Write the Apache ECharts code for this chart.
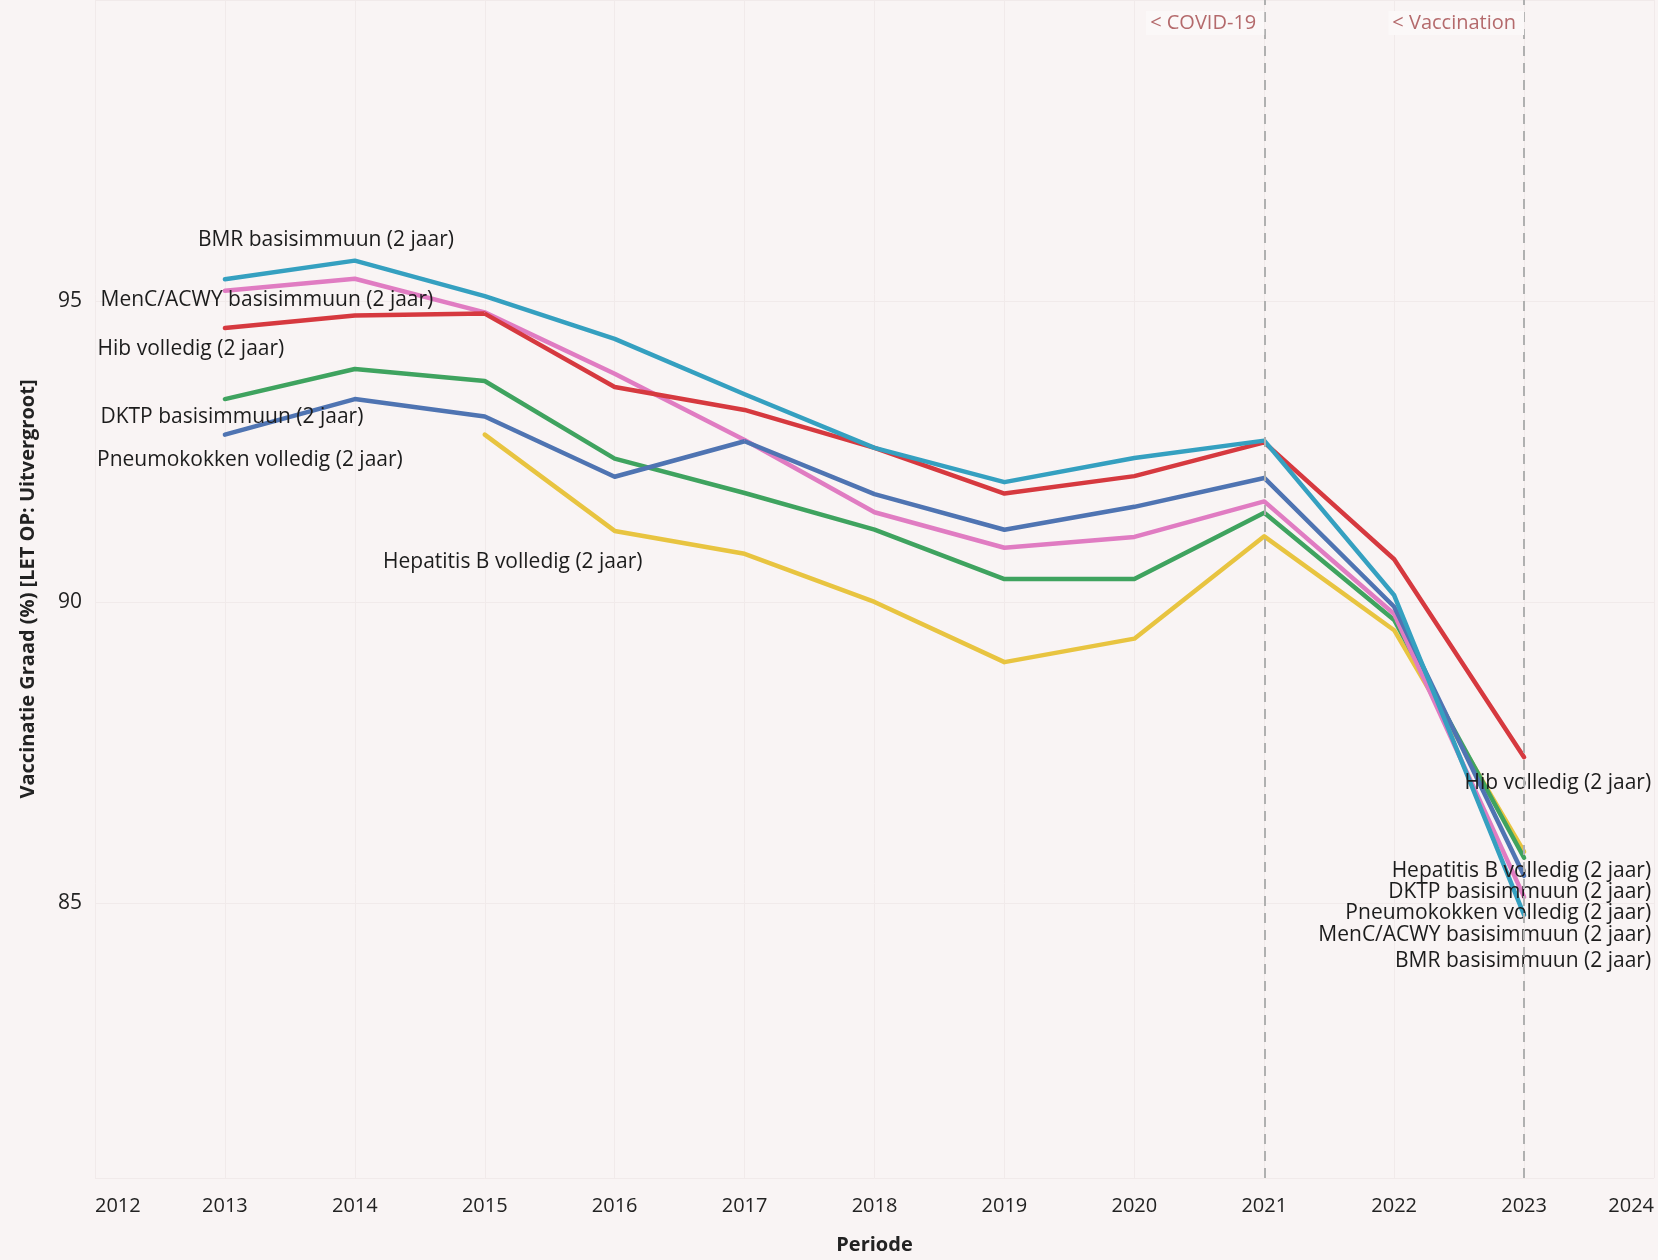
<!DOCTYPE html>
<html><head><meta charset="utf-8">
<script src="https://cdn.jsdelivr.net/npm/echarts@6/dist/echarts.min.js"></script>
<style>html,body{margin:0;padding:0;background:#f9f4f4}#c{width:1658px;height:1260px}</style>
</head><body><div id="c"></div>
<script>
const years = [2013,2014,2015,2016,2017,2018,2019,2020,2021,2022,2023];
const bmr    = [95.36,95.67,95.08,94.37,93.45,92.56,91.99,92.39,92.68,90.11,84.80];
const menc   = [95.17,95.37,94.81,93.79,92.69,91.49,90.90,91.08,91.67,89.80,85.10];
const hib    = [94.55,94.76,94.79,93.57,93.19,92.56,91.80,92.09,92.65,90.71,87.42];
const dktp   = [93.37,93.87,93.67,92.38,91.81,91.20,90.38,90.38,91.48,89.70,85.75];
const pneumo = [92.78,93.37,93.08,92.08,92.67,91.79,91.20,91.58,92.06,89.92,85.45];
const hepb   = [null,null,92.78,91.18,90.80,90.00,89.00,89.39,91.09,89.53,85.85];
const names = {
  bmr:'BMR basisimmuun (2 jaar)', menc:'MenC/ACWY basisimmuun (2 jaar)', hib:'Hib volledig (2 jaar)',
  dktp:'DKTP basisimmuun (2 jaar)', pneumo:'Pneumokokken volledig (2 jaar)', hepb:'Hepatitis B volledig (2 jaar)'
};
const events = [{year:2021, text:'< COVID-19'}, {year:2023, text:'< Vaccination'}];

const FONT = 'Open Sans';
function mk(name, vals, color, startOff, endOff, extra){
  const data = [];
  vals.forEach((v,i)=>{ if(v==null) return; data.push({value:[years[i], v]}); });
  data[0].label = {show:true, position:'inside', offset:startOff, align:'center', verticalAlign:'middle'};
  data[data.length-1].label = {show:true, position:'inside', offset:endOff, align:'right', verticalAlign:'middle'};
  return Object.assign({
    type:'line', name, data, symbol:'circle', symbolSize:1, showSymbol:true,
    lineStyle:{width:4.5, color, cap:'round', join:'round'}, itemStyle:{color},
    label:{show:false, formatter:'{a}', color:'#1c1c1c', fontSize:21, fontFamily:FONT},
    emphasis:{disabled:true}, animation:false
  }, extra||{});
}

const chart = echarts.init(document.getElementById('c'), null, {renderer:'canvas'});
chart.setOption({
  backgroundColor:'#f9f4f4',
  textStyle:{fontFamily:FONT},
  grid:{left:95, right:4, top:0, bottom:77},
  xAxis:{type:'value', min:2012, max:2024, interval:1,
    axisLine:{show:false}, axisTick:{show:false},
    axisLabel:{formatter:v=>String(v), fontSize:20, color:'#222', margin:18, fontFamily:FONT, alignMinLabel:'left', alignMaxLabel:'right'},
    splitLine:{show:true, lineStyle:{color:'#f1eaea', width:1}},
    name:'Periode', nameLocation:'middle', nameGap:57,
    nameTextStyle:{fontWeight:'bold', fontSize:20, color:'#222', fontFamily:FONT}},
  yAxis:{type:'value', min:80.43, max:100, splitNumber:4, minInterval:5, maxInterval:5,
    axisLine:{show:false}, axisTick:{show:false},
    axisLabel:{formatter:v=>(Math.abs(v%5)<1e-6 && v<99.9 && v>80.5)?String(v):'', fontSize:21, color:'#222', margin:13, fontFamily:FONT},
    splitLine:{show:true, lineStyle:{color:'#f1eaea', width:1}},
    name:'Vaccinatie Graad (%) [LET OP: Uitvergroot]', nameLocation:'middle', nameGap:57, nameRotate:90,
    nameTextStyle:{fontWeight:'bold', fontSize:20, color:'#222', fontFamily:FONT}},
  series:[
    mk(names.hepb, hepb, '#e8c440', [28,127], [127,19]),
    mk(names.dktp, dktp, '#3fa35f', [7,18], [127,34]),
    mk(names.menc, menc, '#e07cc2', [42,9], [127,38]),
    mk(names.pneumo, pneumo, '#4f74b2', [25,25], [127,37]),
    mk(names.hib, hib, '#d6393f', [-34,21], [127,26]),
    mk(names.bmr, bmr, '#35a0c0', [101,-39], [127,46], {
      markLine:{symbol:['none','none'], silent:true, animation:false,
        lineStyle:{color:'#b0b0b0', type:[10,7], width:2},
        label:{show:true, position:'end', distance:-23, align:'right', verticalAlign:'middle',
          color:'#b46a6c', fontSize:20, fontFamily:FONT, backgroundColor:'#fbf8f8', padding:[2,8,2,4]},
        data: events.map(e=>({xAxis:e.year, label:{formatter:e.text}}))
      }
    })
  ]
});
</script></body></html>
